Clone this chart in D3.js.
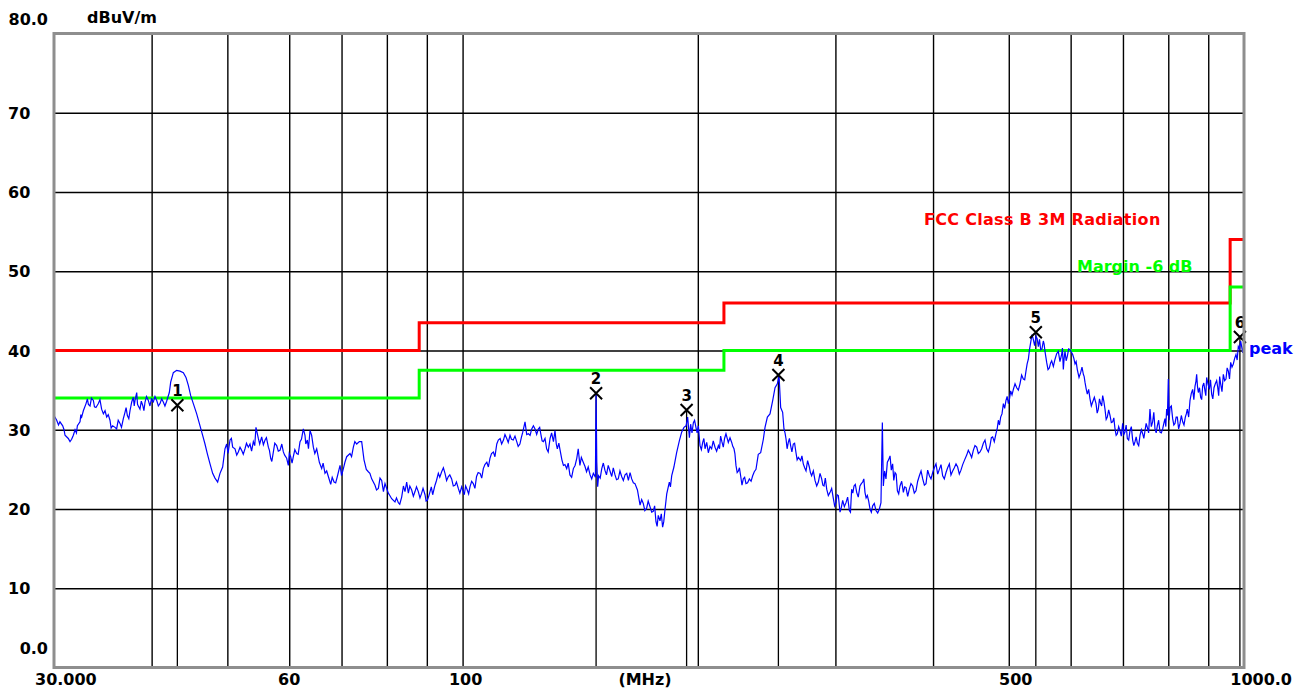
<!DOCTYPE html>
<html><head><meta charset="utf-8">
<script src="https://cdn.jsdelivr.net/npm/d3@7"></script>
<style>html,body{margin:0;padding:0;background:#fff;}svg{display:block;}</style>
</head><body>
<script>
// ---- data: main trace samples (MHz, dBuV/m) ----
const traceFreq = [30.0,30.24,30.53,30.78,30.99,31.29,31.60,31.76,31.92,32.14,32.39,32.55,32.71,32.97,33.10,33.36,33.69,33.95,34.19,34.52,34.87,35.04,35.38,35.66,35.91,36.08,36.44,36.80,36.98,37.24,37.53,37.72,37.90,38.09,38.28,38.46,38.65,38.96,39.23,39.61,40.00,40.20,40.60,41.00,41.40,41.81,42.14,42.31,42.64,43.06,43.49,43.92,44.26,44.57,44.88,45.23,45.68,46.13,46.49,46.81,47.13,47.51,47.88,48.21,48.59,48.93,49.31,49.65,49.90,50.39,50.79,51.14,51.64,52.15,52.67,53.19,53.45,53.98,54.40,54.78,55.32,55.87,56.42,56.81,57.26,57.82,58.39,58.97,59.55,59.84,60.26,60.73,61.33,61.94,62.55,62.85,63.29,63.79,64.42,65.06,65.57,66.02,66.67,67.33,67.80,68.47,69.14,69.69,70.38,71.07,71.77,72.48,73.20,73.77,
74.28,74.79,75.75,76.50,77.25,78.02,78.79,79.56,80.35,81.14,81.94,82.75,83.57,84.39,84.81,85.23,86.07,86.92,87.77,88.64,89.52,90.14,90.85,91.56,92.19,93.10,94.02,94.95,95.89,96.83,97.79,98.75,99.73,100.5,101.4,102.2,103.2,104.2,105.3,106.3,107.4,108.4,109.5,110.6,111.7,112.8,113.9,115.0,116.1,117.3,118.4,119.4,120.2,121.4,122.6,123.8,125.0,125.9,126.9,128.1,129.4,130.7,131.3,132.2,133.3,134.6,135.9,137.2,138.6,140.0,140.6,141.3,142.7,144.1,145.6,147.0,147.9,148.2,148.5,148.9,150.7,152.1,153.6,155.2,156.7,158.2,159.8,161.4,163.0,164.6,166.2,167.4,168.7,170.3,172.0,173.7,175.4,176.8,178.0,
178.9,180.3,181.6,182.5,183.9,185.2,186.4,187.9,189.4,190.7,192.0,193.2,194.1,195.1,195.8,197.4,198.9,200.3,201.3,202.9,204.3,206.3,208.3,210.4,212.5,213.9,215.6,217.3,218.8,221.0,222.5,223.8,225.4,226.9,228.7,230.5,232.8,235.1,237.4,239.0,240.7,242.6,243.8,245.5,247.4,249.4,251.1,252.8,254.1,255.3,256.8,257.8,259.4,261.1,262.9,265.0,267.1,269.0,270.8,272.9,275.1,277.8,279.7,282.5,285.3,288.1,290.1,292.4,295.3,298.2,300.5,302.6,304.1,306.5,309.5,312.6,314.7,316.9,319.4,322.5,325.1,327.3,329.6,332.2,334.8,338.1,341.5,343.1,344.5,345.5,348.2,349.6,352.4,355.1,357.6,360.1,362.9,366.5,369.4,373.0,376.7,380.4,384.2,388.0,391.8,395.7,399.6,403.5,407.5,411.5,415.6,419.7,423.8,428.0,432.2,436.5,
441.7,446.0,450.4,454.9,459.4,463.9,468.5,473.1,476.8,481.5,484.9,488.2,492.1,495.9,499.4,502.8,506.8,511.8,516.8,521.9,526.0,529.7,533.3,537.5,541.8,545.5,549.3,553.6,556.3,559.1,563.5,567.4,573.0,578.6,584.3,587.2,590.1,594.2,598.9,603.6,607.8,611.9,618.0,622.9,625.9,630.2,635.2,640.2,646.6,651.0,655.5,659.4,663.9,668.5,673.8,679.1,683.8,688.5,693.9,699.4,704.2,709.1,714.7,720.3,725.3,730.3,736.1,741.9,747.0,752.1,758.0,764.0,769.3,774.6,780.7,786.9,792.3,796.2,800.1,804.1,810.4,816.0,821.6,828.1,834.7,841.2,846.2,852.9,859.6,865.6,869.8,874.1,880.1,885.3,891.4,895.8,902.9,909.1,915.4,922.6,928.1,933.5,940.9,948.3,954.9,961.5,969.0,976.7,983.4,990.2,996.1,1000];
const traceLevel = [31.8,31.2,31.0,30.5,29.3,28.9,28.8,29.3,30.0,30.5,31.0,31.6,32.4,33.3,33.9,33.0,33.7,32.8,33.3,32.6,32.4,31.6,31.2,30.5,30.3,30.1,30.8,31.4,32.2,31.8,32.4,33.5,34.1,33.7,34.7,33.0,32.6,33.1,33.5,33.7,34.0,33.5,33.7,33.3,33.5,33.6,34.7,36.0,37.2,37.5,37.4,37.2,36.6,35.6,34.3,33.3,32.0,30.5,29.3,28.2,27.0,25.7,24.5,23.9,23.4,24.5,25.3,27.6,28.2,28.7,27.8,27.6,27.2,27.4,27.6,27.8,28.2,28.5,30.3,28.9,29.1,28.7,27.8,26.4,27.2,28.0,27.4,27.2,26.4,25.5,26.6,26.6,27.0,28.5,30.1,29.3,28.7,29.9,27.8,27.6,25.9,25.1,24.5,24.1,23.1,23.4,24.1,25.5,25.1,26.6,27.0,27.8,28.2,28.5,
28.5,26.2,24.7,23.8,23.0,22.6,23.6,23.2,22.0,21.3,20.9,20.8,21.5,22.2,23.4,22.0,22.4,22.2,22.2,22.0,21.8,21.1,22.2,21.8,23.0,24.5,24.7,24.5,24.1,23.8,23.0,22.6,22.8,21.8,22.4,22.8,23.2,24.1,24.5,25.1,25.9,26.4,27.2,28.2,28.9,28.7,28.9,29.3,28.7,28.5,28.2,29.7,31.0,29.5,30.1,30.1,30.1,29.5,28.5,27.6,28.9,28.5,29.9,27.6,27.4,25.5,25.1,24.3,25.1,26.4,27.6,25.5,25.9,24.7,24.3,24.5,24.0,34.7,26.0,22.8,25.1,24.9,25.5,24.1,24.3,23.8,24.1,24.3,23.6,23.8,23.2,22.4,20.5,20.7,20.1,20.3,19.7,18.4,19.2,
18.5,17.7,20.0,21.9,23.4,24.2,25.3,27.1,28.6,29.7,30.3,30.5,31.6,29.0,30.7,30.9,30.3,30.5,28.0,28.4,27.6,27.1,27.6,27.8,28.0,29.2,27.8,29.5,28.4,28.4,27.6,25.5,24.8,24.2,23.8,23.2,23.8,24.2,25.0,26.9,27.1,28.8,30.3,31.6,32.0,33.7,35.3,35.8,36.8,32.8,32.2,30.1,28.8,28.4,28.0,28.2,27.1,26.5,26.1,25.7,24.8,25.3,24.2,23.6,23.4,23.8,22.9,22.5,22.1,21.3,20.8,21.7,19.6,21.1,20.8,19.8,22.5,22.9,22.1,22.9,23.4,22.1,21.7,20.0,20.4,19.8,20.0,20.8,30.9,22.9,23.8,25.9,26.7,25.7,24.6,22.3,22.9,22.1,22.7,22.5,22.9,22.3,24.2,23.8,23.2,24.2,24.6,25.7,25.0,24.2,24.6,25.7,24.8,25.7,24.4,25.6,
26.8,27.0,27.4,27.8,27.2,28.3,27.6,28.0,29.1,29.5,31.2,31.6,33.3,33.7,33.3,34.9,35.1,35.3,35.8,36.4,37.4,38.9,41.0,41.4,41.8,40.5,40.1,41.2,39.9,38.5,37.8,38.7,38.9,39.9,39.5,37.6,39.9,39.3,40.1,39.5,38.3,37.6,37.2,37.0,36.0,34.5,33.9,33.5,33.3,32.6,33.3,34.3,32.6,31.6,31.8,31.0,30.1,29.5,29.9,30.8,29.7,28.9,29.9,28.7,28.5,28.3,29.3,29.5,29.9,30.3,32.6,31.0,30.1,30.5,29.7,30.1,31.4,32.6,36.4,32.8,31.4,30.8,31.6,30.8,31.0,31.6,32.6,33.7,35.1,35.5,37.0,34.7,34.1,35.5,34.9,36.6,35.1,34.5,35.3,36.2,34.3,35.8,37.0,36.4,37.4,38.5,38.3,39.5,40.5,41.2,39.7,41.0];

// ---- data: extra in-between samples (the fast jitter of the sweep) ----
const jitterFreq = [30.4,30.9,31.45,32.05,32.47,33.2,33.5,33.8,34.35,34.7,35.2,35.5,36.25,36.6,37.1,37.4,38.0,38.37,38.8,39.1,39.4,39.8,40.1,40.4,40.8,41.2,41.6,
50.1,50.6,51.4,51.9,52.4,52.9,53.7,54.2,55.0,55.6,56.1,56.6,57.0,57.5,58.1,58.7,59.2,60.0,60.5,61.0,61.6,62.2,63.0,63.5,64.1,64.7,66.3,67.0,68.1,68.8,70.0,70.7,72.1,72.8,
75.3,76.1,77.6,78.4,79.2,80.7,82.3,83.1,84.0,85.6,86.5,87.3,88.2,89.0,89.8,90.5,91.2,92.6,93.5,94.5,95.4,96.3,97.3,98.2,99.2,100.9,101.8,102.7,103.7,104.7,105.8,106.8,107.9,108.9,110.0,111.1,112.2,113.3,114.4,115.5,116.7,117.8,118.9,120.8,122.0,123.2,124.4,125.5,126.4,127.5,128.7,130.0,131.8,132.8,134.0,135.2,136.5,137.9,139.3,141.9,143.4,144.8,146.3,
149.3,150.0,151.4,152.8,154.4,155.9,157.4,159.0,160.6,162.2,163.8,165.4,169.5,171.1,172.8,174.6,176.1,177.4,179.6,180.9,184.5,196.6,198.1,199.6,202.1,203.6,205.3,207.3,209.3,211.4,213.2,214.7,216.4,219.9,221.7,223.1,224.6,226.1,227.8,229.6,231.6,234.0,236.2,
258.6,260.2,262.0,263.9,266.0,268.0,271.8,274.0,276.4,278.7,281.1,283.9,286.7,289.1,291.2,293.8,296.7,299.3,301.5,303.3,305.3,308.0,311.0,313.6,315.8,318.1,320.9,323.8,326.2,328.4,330.9,333.5,336.4,339.8,
346.8,350.9,353.7,356.3,358.8,361.5,364.7,367.9,371.2,374.8,378.5,382.3,386.1,389.9,393.7,397.6,401.5,405.5,409.5,413.5,417.6,421.7,425.9,430.1,434.3,439.0,443.8,448.2,452.6,457.1,461.6,466.2,470.8,475.0,479.1,483.2,486.5,490.1,494.0,497.6,501.1,504.8,509.3,514.3,519.3,524.0,527.8,531.5,535.4,539.6,543.6,547.4,551.4,554.9,557.7,561.3,565.5,570.2,575.8,581.4,585.7,588.6,592.1,596.5,601.2,605.7,609.8,615.0,620.4,624.4,628.0,632.7,637.7,643.4,648.8,653.2,657.4,661.6,666.2,671.1,676.4,681.4,686.1,691.2,696.6,701.8,706.6,711.9,717.5,722.8,727.8,733.2,739.0,744.4,749.5,755.0,761.0,766.6,772.0,777.6,783.8,789.6,794.2,798.0,802.1,807.2,813.2,818.8,824.8,831.4,837.9,843.7,849.5,856.2,862.6,867.7,872.0,877.1,882.7,888.3,893.6,899.3,906.0,912.2,918.9,925.3,930.8,937.2,944.6,951.6,958.2,965.2,972.8,980.0,986.8,993.2];
const jitterLevel = [30.6,30.0,28.5,29.6,31.9,33.2,34.0,32.9,33.8,32.0,31.9,30.2,31.2,30.3,32.8,31.4,33.0,33.2,33.6,32.4,34.2,33.0,33.6,34.2,33.0,33.9,33.0,
27.0,28.9,26.8,27.8,26.9,28.3,27.3,28.0,28.2,28.1,29.0,27.4,26.0,28.3,27.3,28.2,26.8,27.0,25.8,27.5,26.9,28.8,28.2,27.6,29.3,27.0,25.8,24.8,24.0,23.3,24.2,25.9,26.6,28.5,
25.0,24.5,22.4,23.9,22.2,21.7,21.4,20.6,22.9,22.9,21.6,22.8,21.4,22.6,21.0,21.6,22.8,23.6,24.0,25.2,23.6,24.3,22.9,23.4,22.0,22.9,21.9,23.5,22.6,24.6,23.9,25.6,25.3,27.0,26.6,28.7,28.2,29.4,28.4,28.8,29.2,27.9,29.0,29.4,29.3,30.5,29.4,30.3,28.6,28.9,27.2,29.6,28.2,28.3,26.2,25.6,25.8,24.0,25.5,26.5,25.4,25.3,23.8,
24.2,23.9,25.8,24.3,24.8,25.2,23.7,24.8,23.6,24.5,24.6,23.3,21.2,19.8,21.0,19.6,20.4,17.8,19.4,18.4,22.8,29.6,31.2,29.6,27.5,28.9,28.4,27.9,28.6,27.3,27.6,28.5,28.9,29.0,27.9,27.0,24.6,25.2,23.0,24.0,23.3,23.5,24.7,
29.6,27.6,28.9,27.2,28.3,26.2,26.7,25.2,26.1,24.6,24.8,22.9,24.5,23.0,23.9,21.7,22.6,20.4,21.8,20.7,20.2,20.3,21.5,19.6,22.0,23.1,21.5,23.2,23.8,21.4,21.0,19.6,20.7,19.5,
24.8,26.2,24.9,23.6,24.4,21.9,23.5,22.8,21.6,23.2,22.0,23.5,24.8,23.0,24.9,23.8,25.2,24.4,25.6,23.8,25.2,24.3,25.2,25.3,24.9,26.2,27.4,26.5,28.0,27.0,27.6,28.7,27.2,29.0,28.5,30.1,30.6,32.0,32.7,34.2,33.9,34.4,35.8,35.0,36.9,36.3,38.3,40.1,42.0,40.6,41.5,41.4,40.2,40.8,39.2,37.6,38.4,38.0,39.6,38.6,40.3,39.0,38.7,40.2,39.8,39.0,38.6,36.6,37.9,36.7,35.2,35.1,33.0,34.1,32.1,33.9,33.0,33.6,31.3,32.5,30.9,31.5,29.3,30.4,29.2,29.4,30.6,28.7,30.4,28.0,29.1,28.0,30.0,28.9,30.8,29.6,30.4,32.2,29.6,31.2,29.6,30.8,30.4,31.8,31.2,33.0,30.6,31.6,30.1,31.8,30.6,32.0,31.6,34.6,33.8,36.0,35.4,35.3,33.8,35.9,34.3,35.8,36.3,33.9,35.8,35.4,36.7,34.8,36.2,37.8,36.4,37.9,39.0,38.8,40.2,40.5];

const limitFreq  = [30, 88, 88, 216, 216, 960, 960, 1000];
const limitLevel = [40, 40, 43.5, 43.5, 46, 46, 54, 54];
const marginFreq  = [30, 88, 88, 216, 216, 960, 960, 1000];
const marginLevel = [34, 34, 37.5, 37.5, 40, 40, 48, 48];

const markerId    = ["1","2","3","4","5","6"];
const markerFreq  = [43.15, 148.2, 193.5, 253.6, 541.5, 988];
const markerLevel = [33.1, 34.6, 32.5, 36.9, 42.3, 41.7];

const gridFreq  = [40,50,60,70,80,90,100,200,300,400,500,600,700,800,900];
const gridLevel = [10,20,30,40,50,60,70];
const yTickValues = [0,10,20,30,40,50,60,70,80];
const yTickLabels = ["0.0","10","20","30","40","50","60","70","80.0"];
const xTickValues = [30,60,100,500,1000];
const xTickLabels = ["30.000","60","100","500","1000.0"];

(function () {
  const W = 1303, H = 692;
  const pL = 54, pR = 1244, pT = 33.5, pB = 667.5;
  const svg = d3.select("body").append("svg").attr("width", W).attr("height", H);
  svg.append("rect").attr("width", W).attr("height", H).attr("fill", "#fff");

  const x = d3.scaleLog().domain([30, 1000]).range([pL, pR]);
  const y = d3.scaleLinear().domain([0, 80]).range([pB, pT]);
  const FONT = "'DejaVu Sans', sans-serif";

  // grid via axes
  const gx = svg.append("g").attr("transform", `translate(0,${pB})`)
    .call(d3.axisBottom(x).tickValues(gridFreq).tickSize(-(pB - pT)).tickFormat(""));
  gx.select(".domain").remove();
  gx.selectAll("line").attr("stroke", "#000").attr("stroke-width", 1.4);
  const gy = svg.append("g").attr("transform", `translate(${pL},0)`)
    .call(d3.axisLeft(y).tickValues(gridLevel).tickSize(-(pR - pL)).tickFormat(""));
  gy.select(".domain").remove();
  gy.selectAll("line").attr("stroke", "#000").attr("stroke-width", 1.4);

  // marker drop lines
  const markers = markerId.map((id, i) => ({id, f: markerFreq[i], v: markerLevel[i]}));
  svg.append("g").selectAll("line").data(markers).join("line")
    .attr("x1", d => x(d.f)).attr("x2", d => x(d.f))
    .attr("y1", d => y(d.v)).attr("y2", pB)
    .attr("stroke", "#000").attr("stroke-width", 1.3);

  // limit lines
  const line = d3.line().x(d => x(d[0])).y(d => y(d[1]));
  svg.append("path").datum(limitFreq.map((f, i) => [f, limitLevel[i]]))
    .attr("d", line).attr("fill", "none").attr("stroke", "#ff0000").attr("stroke-width", 3);
  svg.append("path").datum(marginFreq.map((f, i) => [f, marginLevel[i]]))
    .attr("d", line).attr("fill", "none").attr("stroke", "#00ff00").attr("stroke-width", 3);

  // trace: merge main + jitter samples, ordered by frequency
  const pts = traceFreq.map((f, i) => [f, traceLevel[i]])
    .concat(jitterFreq.map((f, i) => [f, jitterLevel[i]]))
    .sort((a, b) => a[0] - b[0]);
  svg.append("path").datum(pts)
    .attr("d", line).attr("fill", "none").attr("stroke", "#0000ff").attr("stroke-width", 1.2)
    .attr("stroke-linejoin", "miter");

  // marker X glyphs and numbers
  const mg = svg.append("g").selectAll("g").data(markers).join("g")
    .attr("transform", d => `translate(${x(d.f)},${y(d.v)})`);
  mg.append("path").attr("d", "M-6,-6L6,6M6,-6L-6,6").attr("stroke", "#000").attr("stroke-width", 2).attr("fill", "none");
  mg.append("text").attr("x", 0).attr("y", -9).attr("text-anchor", "middle")
    .attr("font-family", FONT).attr("font-weight", "bold").attr("font-size", 15).attr("fill", "#000").text(d => d.id);

  // frame
  svg.append("rect").attr("x", pL).attr("y", pT).attr("width", pR - pL).attr("height", pB - pT)
    .attr("fill", "none").attr("stroke", "#8e8e8e").attr("stroke-width", 3);

  // y labels
  svg.append("g").selectAll("text").data(yTickValues).join("text")
    .attr("x", (d, i) => (i === 0 || i === 8) ? 48 : 8)
    .attr("text-anchor", (d, i) => (i === 0 || i === 8) ? "end" : "start")
    .attr("y", (d, i) => y(d) + 6 + (i === 0 ? -20 : i === 8 ? -15 : 0))
    .attr("font-family", FONT).attr("font-weight", "bold").attr("font-size", 16).attr("fill", "#000")
    .text((d, i) => yTickLabels[i]);
  svg.append("text").attr("x", 87).attr("y", 23).attr("font-family", FONT).attr("font-weight", "bold")
    .attr("font-size", 16).text("dBuV/m");

  // x labels
  const xAnchor = ["start", "middle", "middle", "middle", "end"];
  const xShift = [-19, 0, 3, 7, 48];
  svg.append("g").selectAll("text").data(xTickValues).join("text")
    .attr("x", (d, i) => x(d) + xShift[i]).attr("y", 685)
    .attr("text-anchor", (d, i) => xAnchor[i])
    .attr("font-family", FONT).attr("font-weight", "bold").attr("font-size", 16).attr("fill", "#000")
    .text((d, i) => xTickLabels[i]);
  svg.append("text").attr("x", 645).attr("y", 685).attr("text-anchor", "middle")
    .attr("font-family", FONT).attr("font-weight", "bold").attr("font-size", 16).text("(MHz)");

  // legend texts
  svg.append("text").attr("x", 924).attr("y", 225).attr("font-family", FONT).attr("font-weight", "bold")
    .attr("font-size", 16).attr("fill", "#ff0000").attr("letter-spacing", 0.3).text("FCC Class B 3M Radiation");
  svg.append("text").attr("x", 1077).attr("y", 272).attr("font-family", FONT).attr("font-weight", "bold")
    .attr("font-size", 16).attr("fill", "#00ff00").text("Margin -6 dB");
  svg.append("text").attr("x", 1249).attr("y", 354).attr("font-family", FONT).attr("font-weight", "bold")
    .attr("font-size", 16).attr("fill", "#0000ff").text("peak");
})();
</script>
</body></html>
